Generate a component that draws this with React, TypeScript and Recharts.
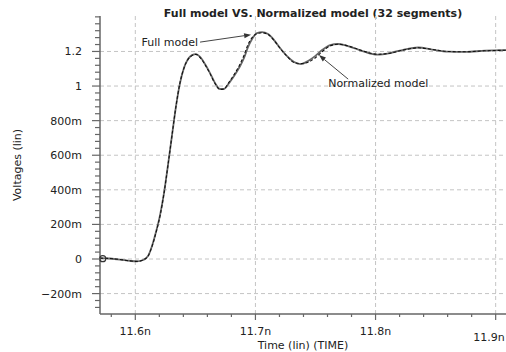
import { CartesianGrid, Line, LineChart, ReferenceDot, ReferenceLine, XAxis, YAxis } from "recharts";

// time in ns
const time = [
  11.5706, 11.5789, 11.5873, 11.5956, 11.6014, 11.6064, 11.6106, 11.6139, 11.6172, 11.6206,
  11.6239, 11.6272, 11.6306, 11.6339, 11.6372, 11.6405, 11.6439, 11.6472, 11.6505, 11.6539,
  11.658, 11.6622, 11.6664, 11.6705, 11.6738, 11.678, 11.6822, 11.6863, 11.6905, 11.6938,
  11.6972, 11.7013, 11.7055, 11.7105, 11.7155, 11.7205, 11.7263, 11.7322, 11.738, 11.7438,
  11.7497, 11.7555, 11.7622, 11.7688, 11.7755, 11.783, 11.7913, 11.8013, 11.8121, 11.8238,
  11.8355, 11.8471, 11.8604, 11.8746, 11.8913, 11.9088,
];

// volts
const fullModel = [
  0.005, 0.003, -0.003, -0.011, -0.014, -0.006, 0.017, 0.075, 0.156, 0.254,
  0.382, 0.543, 0.717, 0.884, 1.017, 1.104, 1.156, 1.179, 1.185, 1.168,
  1.127, 1.075, 1.017, 0.983, 0.983, 1.017, 1.058, 1.104, 1.162, 1.225,
  1.272, 1.306, 1.312, 1.301, 1.266, 1.22, 1.173, 1.139, 1.127, 1.145,
  1.173, 1.208, 1.237, 1.243, 1.234, 1.217, 1.197, 1.182, 1.191, 1.211,
  1.223, 1.211, 1.199, 1.197, 1.205, 1.208,
];

const normalizedModel = [
  0.005, 0.003, -0.003, -0.011, -0.014, -0.006, 0.017, 0.073, 0.152, 0.25,
  0.38, 0.543, 0.718, 0.886, 1.019, 1.104, 1.154, 1.176, 1.183, 1.165,
  1.124, 1.072, 1.014, 0.98, 0.984, 1.022, 1.066, 1.115, 1.178, 1.24,
  1.28, 1.303, 1.308, 1.298, 1.263, 1.218, 1.172, 1.136, 1.13, 1.138,
  1.162, 1.198, 1.232, 1.242, 1.235, 1.219, 1.199, 1.184, 1.19, 1.209,
  1.221, 1.212, 1.2, 1.198, 1.204, 1.207,
];

const xMajor = [11.6, 11.7, 11.8, 11.9];
const xLabels = ["11.6n", "11.7n", "11.8n", "11.9n"];
const yMajor = [-0.2, 0, 0.2, 0.4, 0.6, 0.8, 1, 1.2];
const yLabels = ["\u2212200m", "0", "200m", "400m", "600m", "800m", "1", "1.2"];

const data = time.map((t, i) => ({ t, full: fullModel[i], norm: normalizedModel[i] }));

// minor ticks: 0.02n on x, 40m on y
const xTicks = Array.from({ length: 17 }, (_, i) => +(11.58 + i * 0.02).toFixed(2));
const yTicks = Array.from({ length: 43 }, (_, i) => +(-0.28 + i * 0.04).toFixed(2));

const FONT = "'DejaVu Sans', sans-serif";
const AXIS = "#666";
const TEXT = "#222";

const YTick = (props: any) => {
  const { x, y, payload } = props;
  const i = yMajor.findIndex((v) => Math.abs(v - payload.value) < 1e-6);
  const major = i >= 0;
  return (
    <g>
      <line x1={x - (major ? 8 : 5)} y1={y} x2={x} y2={y} stroke={AXIS} strokeWidth={1.2} />
      {major && (
        <text x={x - 18} y={y + 4} textAnchor="end" fontSize={11} fill={TEXT} fontFamily={FONT}>
          {yLabels[i]}
        </text>
      )}
    </g>
  );
};

const XTick = (props: any) => {
  const { x, y, payload } = props;
  const i = xMajor.findIndex((v) => Math.abs(v - payload.value) < 1e-6);
  const major = i >= 0;
  const last = i === xMajor.length - 1;
  return (
    <g>
      <line x1={x} y1={y} x2={x} y2={y + (major ? 6 : 3)} stroke={AXIS} strokeWidth={1.2} />
      {major && (
        <text
          x={last ? x + 9 : x}
          y={last ? y + 27 : y + 21}
          textAnchor={last ? "end" : "middle"}
          fontSize={11}
          fill={TEXT}
          fontFamily={FONT}
        >
          {xLabels[i]}
        </text>
      )}
    </g>
  );
};

// annotation: arrow with text at its tail
const arrow = (label: string, dx: number, dy: number, anchor: string) => (p: any) => {
  const { x1, y1, x2, y2 } = p;
  const a = Math.atan2(y2 - y1, x2 - x1);
  const L = 7;
  const W = 2.5;
  const bx = x2 - L * Math.cos(a);
  const by = y2 - L * Math.sin(a);
  const pts = `${x2},${y2} ${bx - W * Math.sin(a)},${by + W * Math.cos(a)} ${bx + W * Math.sin(a)},${by - W * Math.cos(a)}`;
  return (
    <g>
      <line x1={x1} y1={y1} x2={bx} y2={by} stroke="#444" strokeWidth={1} />
      <polygon points={pts} fill="#333" />
      <text x={x1 + dx} y={y1 + dy} textAnchor={anchor} fontSize={11} fill={TEXT} fontFamily={FONT}>
        {label}
      </text>
    </g>
  );
};

export default function App() {
  return (
    <div style={{ position: "absolute", left: 0, top: 0, width: 506, height: 352, background: "#fff" }}>
      <svg width={506} height={352} style={{ position: "absolute", left: 0, top: 0, pointerEvents: "none" }}>
        <text x={313} y={17} textAnchor="middle" fontSize={11} fontWeight="bold" fill={TEXT} fontFamily={FONT}>
          Full model VS. Normalized model (32 segments)
        </text>
      </svg>
      <LineChart width={506} height={352} data={data} margin={{ top: 16, right: 0, bottom: 0, left: 0 }}>
        <CartesianGrid stroke="#c4c4c4" strokeDasharray="4 3" horizontalValues={yMajor} verticalValues={xMajor} />
        <XAxis
          type="number"
          dataKey="t"
          domain={[11.5706, 11.9086]}
          allowDataOverflow
          ticks={xTicks}
          interval={0}
          tickSize={0}
          tickMargin={0}
          tick={<XTick />}
          tickLine={false}
          axisLine={{ stroke: AXIS, strokeWidth: 1.5 }}
          height={38}
          label={{ value: "Time (lin) (TIME)", position: "insideBottom", offset: 3, fontSize: 11, fill: TEXT, fontFamily: FONT }}
        />
        <YAxis
          type="number"
          domain={[-0.318, 1.405]}
          allowDataOverflow
          ticks={yTicks}
          interval={0}
          tickSize={0}
          tickMargin={0}
          tick={<YTick />}
          tickLine={false}
          axisLine={{ stroke: AXIS, strokeWidth: 1.5 }}
          width={100}
          label={{ value: "Voltages (lin)", angle: -90, position: "insideLeft", offset: 17, fontSize: 11, fill: TEXT, fontFamily: FONT, style: { textAnchor: "middle" } }}
        />
        <Line type="monotone" dataKey="full" stroke="#666" strokeWidth={1.8} dot={false} isAnimationActive={false} />
        <Line type="monotone" dataKey="norm" stroke="#111" strokeWidth={1.1} strokeDasharray="3 2" dot={false} isAnimationActive={false} />
        <ReferenceDot x={11.5729} y={0.002} r={3} fill="none" stroke="#333" strokeWidth={1.2} />
        <ReferenceLine
          segment={[{ x: 11.6539, y: 1.254 }, { x: 11.6964, y: 1.297 }]}
          shape={arrow("Full model", -2, 4, "end")}
        />
        <ReferenceLine
          segment={[{ x: 11.7772, y: 1.04 }, { x: 11.7529, y: 1.179 }]}
          shape={arrow("Normalized model", -20, 8, "start")}
        />
      </LineChart>
    </div>
  );
}
